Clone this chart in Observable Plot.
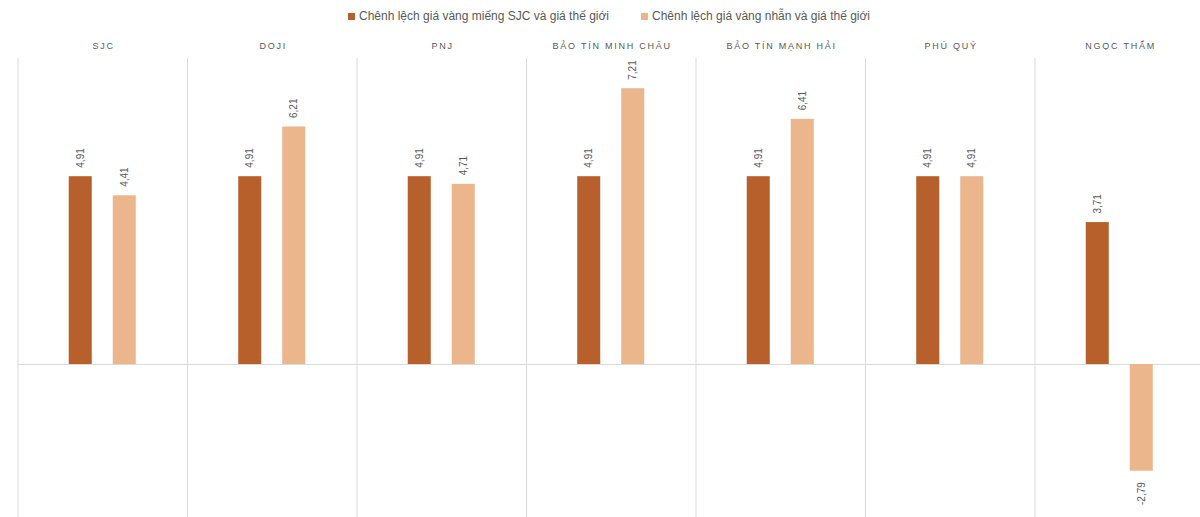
<!DOCTYPE html>
<html>
<head>
<meta charset="utf-8">
<script src="https://cdn.jsdelivr.net/npm/d3@7"></script>
<script src="https://cdn.jsdelivr.net/npm/@observablehq/plot@0.6"></script>
<style>
  html, body { margin: 0; padding: 0; background: #fff; overflow: hidden; width: 1200px; height: 517px; }
  #legend { position: relative; height: 30px; font-family: "Liberation Sans", Arial, sans-serif; font-size: 12px; color: #595959; }
  .item { position: absolute; top: 9px; display: flex; align-items: center; white-space: nowrap; }
  .sw { width: 7px; height: 7px; margin-right: 4px; }
  #chart svg { display: block; overflow: visible; max-width: none !important; }
</style>
</head>
<body>
<div id="legend"></div>
<div id="chart"></div>
<script>
const companies = ["SJC", "DOJI", "PNJ", "BẢO TÍN MINH CHÂU", "BẢO TÍN MẠNH HẢI", "PHÚ QUÝ", "NGỌC THẨM"];
const seriesNames = ["Chênh lệch giá vàng miếng SJC và giá thế giới", "Chênh lệch giá vàng nhẫn và giá thế giới"];
const barGap = [4.91, 4.91, 4.91, 4.91, 4.91, 4.91, 3.71];
const ringGap = [4.41, 6.21, 4.71, 7.21, 6.41, 4.91, -2.79];
const colors = ["#B7602B", "#EBB68C"];

const data = [];
companies.forEach((c, i) => {
  data.push({company: c, series: seriesNames[0], value: barGap[i]});
  data.push({company: c, series: seriesNames[1], value: ringGap[i]});
});

// legend
const legend = document.getElementById("legend");
const lefts = [348, 641];
seriesNames.forEach((s, i) => {
  const it = document.createElement("div");
  it.className = "item";
  it.style.left = lefts[i] + "px";
  it.innerHTML = `<span class="sw" style="background:${colors[i]}"></span><span>${s}</span>`;
  legend.appendChild(it);
});

const fmt = v => d3.format(".2f")(v).replace(".", ",").replace("−", "-");

const chart = Plot.plot({
  width: 1204,
  height: 487,
  marginLeft: 17.5,
  marginRight: 0,
  marginTop: 28,
  marginBottom: 0,
  style: {fontFamily: "'Liberation Sans', Arial, sans-serif", background: "transparent", maxWidth: "none"},
  fx: {domain: companies, padding: 0, axis: null, round: false},
  x: {domain: seriesNames, paddingInner: 0.477, paddingOuter: 1.164, axis: null, round: false},
  y: {domain: [-4, 8], axis: null},
  color: {domain: seriesNames, range: colors},
  marks: [
    Plot.frame({anchor: "left", stroke: "#d9d9d9", strokeWidth: 1}),
    Plot.ruleY([0], {stroke: "#d9d9d9", strokeWidth: 1}),
    Plot.barY(data, {fx: "company", x: "series", y: "value", fill: "series"}),
    Plot.text(data.filter(d => d.value >= 0), {
      fx: "company", x: "series", y: "value", text: d => fmt(d.value),
      rotate: -90, textAnchor: "start", dy: -9, fill: "#595959", fontSize: 10
    }),
    Plot.text(data.filter(d => d.value < 0), {
      fx: "company", x: "series", y: "value", text: d => fmt(d.value),
      rotate: -90, textAnchor: "end", dy: 11, fill: "#595959", fontSize: 10
    }),
    Plot.text(companies, {
      fx: d => d, text: d => d, frameAnchor: "top", dy: -15.5, dx: 0.9,
      fill: "#595959", fontSize: 9
    })
  ]
});
d3.select(chart).selectAll("text")
  .filter(function() { return companies.includes(this.textContent); })
  .style("letter-spacing", "1.75px");
document.getElementById("chart").appendChild(chart);
</script>
</body>
</html>
